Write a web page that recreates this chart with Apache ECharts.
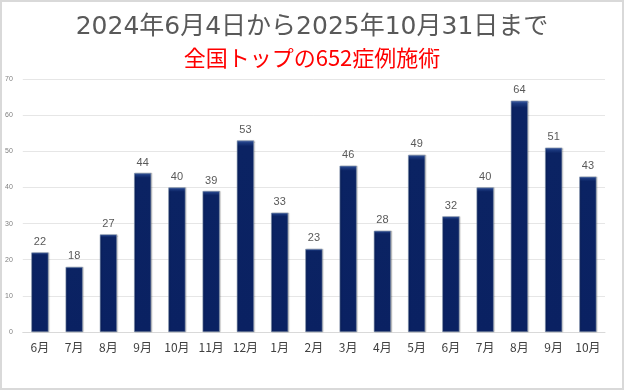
<!DOCTYPE html>
<html><head><meta charset="utf-8">
<script src="https://cdn.jsdelivr.net/npm/echarts@6/dist/echarts.min.js"></script>
<style>html,body{margin:0;padding:0;background:#fff}#c{width:624px;height:390px;box-sizing:border-box;border:2px solid #d9d9d9}</style>
</head><body><div id="c"></div>
<script>
const categories = ['6月','7月','8月','9月','10月','11月','12月','1月','2月','3月','4月','5月','6月','7月','8月','9月','10月'];
const values = [22,18,27,44,40,39,53,33,23,46,28,49,32,40,64,51,43];
const yTicks = {min:0, max:70, interval:10};
const title1 = '2024年6月4日から2025年10月31日まで';
const title2 = '全国トップの652症例施術';

const chart = echarts.init(document.getElementById('c'));
chart.setOption({
  animation:false,
  title:[
    {text:title1, left:'center', top:8, textStyle:{fontSize:25, fontWeight:'normal', color:'#595959', fontFamily:'DejaVu Sans, Noto Sans CJK JP'}},
    {text:title2, left:'center', top:40, textStyle:{fontSize:22, fontWeight:'normal', color:'#ff0000', fontFamily:'Noto Sans CJK JP'}}
  ],
  grid:{left:18, right:17, top:77, bottom:56},
  xAxis:{type:'category', data:categories,
    axisLine:{lineStyle:{color:'#d9d9d9'}}, axisTick:{show:false},
    axisLabel:{interval:0, fontSize:12, color:'#404040', margin:9, fontFamily:'Noto Sans CJK JP'}},
  yAxis:{type:'value', min:yTicks.min, max:yTicks.max, interval:yTicks.interval,
    axisLine:{show:false}, axisTick:{show:false},
    splitLine:{lineStyle:{color:'#e6e6e6'}},
    axisLabel:{fontSize:7, color:'#7f7f7f', margin:10}},
  series:[{type:'bar', data:values, barWidth:'50%',
    itemStyle:{color:new echarts.graphic.LinearGradient(0,0,0,1,[
      {offset:0,color:'#4a6ab0'},{offset:0.012,color:'#1c3a80'},{offset:0.03,color:'#0b2363'},{offset:1,color:'#0a2162'}]),
      borderColor:'#8090a8', borderWidth:0.6,
      shadowColor:'rgba(0,0,0,0.2)', shadowBlur:1, shadowOffsetX:1, shadowOffsetY:0},
    label:{show:true, position:'top', fontSize:11, color:'#595959', distance:5, fontFamily:'Liberation Sans'}
  }]
});
</script></body></html>
